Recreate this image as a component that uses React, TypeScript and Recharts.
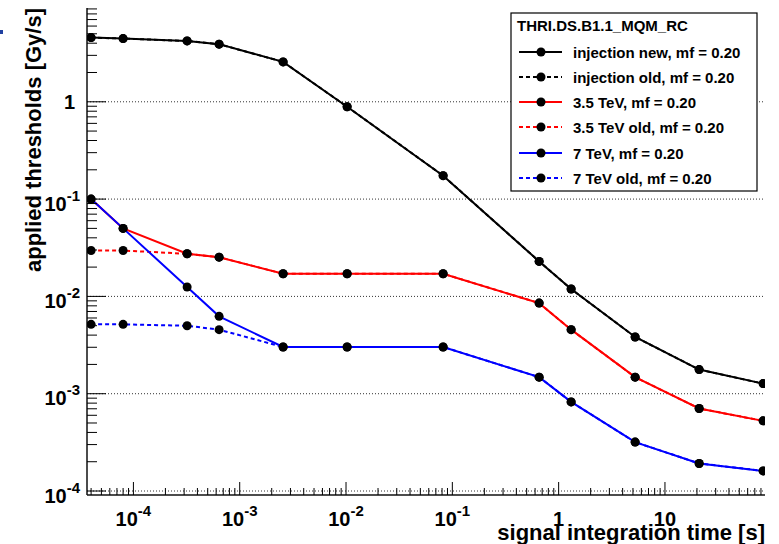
import React from "react";
import { LineChart, Line, XAxis, YAxis, ReferenceLine } from "recharts";

const FONT = '"Liberation Sans", Arial, Helvetica, sans-serif';

// running sum integration times [s]
const times = [
	4e-5, 8e-5, 3.2e-4, 6.4e-4, 2.56e-3, 1.024e-2, 8.192e-2, 0.65536, 1.31072,
	5.24288, 20.97152, 83.88608,
];

const injectionNew = [
	4.57, 4.46, 4.22, 3.91, 2.57, 0.89, 0.174, 0.0229, 0.0119, 0.00383, 0.00177,
	0.00127,
];
const injectionOld = [
	4.57, 4.46, 4.22, 3.91, 2.57, 0.89, 0.174, 0.0229, 0.0119, 0.00383, 0.00177,
	0.00127,
];
const tev35New = [
	0.1, 0.05, 0.0274, 0.0253, 0.0171, 0.0171, 0.0171, 0.00853, 0.00455, 0.00148,
	0.000705, 0.000526,
];
const tev35Old = [
	0.0296, 0.0296, 0.0274, 0.0253, 0.0171, 0.0171, 0.0171, 0.00853, 0.00455,
	0.00148, 0.000705, 0.000526,
];
const tev7New = [
	0.1, 0.05, 0.0125, 0.00624, 0.00302, 0.00302, 0.00302, 0.00148, 0.000824,
	0.000318, 0.000192, 0.000161,
];
const tev7Old = [
	0.00516, 0.00516, 0.00499, 0.00455, 0.00302, 0.00302, 0.00302, 0.00148,
	0.000824, 0.000318, 0.000192, 0.000161,
];

const legendTitle = "THRI.DS.B1.1_MQM_RC";

const series = [
	{ key: "injNew", name: "injection new, mf = 0.20", color: "#000000", dashed: false, values: injectionNew },
	{ key: "injOld", name: "injection old, mf = 0.20", color: "#000000", dashed: true, values: injectionOld },
	{ key: "t35New", name: "3.5 TeV, mf = 0.20", color: "#ff0000", dashed: false, values: tev35New },
	{ key: "t35Old", name: "3.5 TeV old, mf = 0.20", color: "#ff0000", dashed: true, values: tev35Old },
	{ key: "t7New", name: "7 TeV, mf = 0.20", color: "#0000ff", dashed: false, values: tev7New },
	{ key: "t7Old", name: "7 TeV old, mf = 0.20", color: "#0000ff", dashed: true, values: tev7Old },
];

const xDomain = [3.66e-5, 87.3];
const yDomain = [9.1e-5, 9.2];
const xDecades = [-5, -4, -3, -2, -1, 0, 1];
const yDecades = [-5, -4, -3, -2, -1, 0];
const gridDecades = [1e-4, 1e-3, 1e-2, 1e-1, 1];

function logTicks(decades: number[], domain: number[]) {
	const out: number[] = [];
	decades.forEach((d) => {
		for (let k = 1; k <= 9; k++) {
			const v = Number((k * Math.pow(10, d)).toPrecision(6));
			if (v >= domain[0] && v <= domain[1]) out.push(v);
		}
	});
	return out;
}

const xTicks = logTicks(xDecades, xDomain);
const yTicks = logTicks(yDecades, yDomain);

const rows = times.map((t, i) => {
	const r: any = { t };
	series.forEach((s) => {
		r[s.key] = s.values[i];
	});
	return r;
});

function decadeOf(v: number) {
	const e = Math.round(Math.log10(v));
	return Math.abs(v - Math.pow(10, e)) / v < 1e-6 ? e : null;
}

function labelText(e: number) {
	if (e === 0) return <tspan>1</tspan>;
	if (e === 1) return <tspan>10</tspan>;
	return (
		<>
			<tspan>10</tspan>
			<tspan dy={-10} fontSize={15}>
				{String(e)}
			</tspan>
		</>
	);
}

const BottomTick = (props: any) => {
	const { x, y, payload } = props;
	const e = decadeOf(payload.value);
	return (
		<g>
			<line x1={x} x2={x} y1={y} y2={y - (e !== null ? 13 : 7)} stroke="#000" />
			{e !== null && (
				<text x={x} y={y + 31} textAnchor="middle" fontFamily={FONT} fontWeight="bold" fontSize={20} fill="#000">
					{labelText(e)}
				</text>
			)}
		</g>
	);
};

const TopTick = (props: any) => {
	const { x, y, payload } = props;
	const e = decadeOf(payload.value);
	return <line x1={x} x2={x} y1={y} y2={y + (e !== null ? 13 : 7)} stroke="#000" />;
};

const LeftTick = (props: any) => {
	const { x, y, payload } = props;
	const e = decadeOf(payload.value);
	return (
		<g>
			<line x1={x} x2={x + (e !== null ? 19 : 10)} y1={y} y2={y} stroke="#000" />
			{e !== null && (
				<text
					x={e === 0 ? x - 12 : x - 7}
					y={e === 0 ? y + 7 : y + 11.5}
					textAnchor="end"
					fontFamily={FONT}
					fontWeight="bold"
					fontSize={20}
					fill="#000"
				>
					{labelText(e)}
				</text>
			)}
		</g>
	);
};

const RightTick = (props: any) => {
	const { x, y, payload } = props;
	const e = decadeOf(payload.value);
	return <line x1={x} x2={x - (e !== null ? 19 : 10)} y1={y} y2={y} stroke="#000" />;
};

function LegendBox() {
	const left = 511;
	const top = 13;
	const rowY = [52, 77, 102, 127, 153, 178];
	return (
		<svg
			width={779}
			height={544}
			style={{ position: "absolute", left: 0, top: 0, pointerEvents: "none" }}
		>
			<rect x={0} y={30} width={3} height={4} fill="#2040a0" />
			<rect x={left} y={top} width={246} height={178} fill="#fff" stroke="#000" strokeWidth={1.2} />
			<text x={517} y={31} fontFamily={FONT} fontWeight="bold" fontSize={15} fill="#000">
				{legendTitle}
			</text>
			{series.map((s, i) => (
				<g key={s.key}>
					<line
						x1={519}
						x2={562}
						y1={rowY[i]}
						y2={rowY[i]}
						stroke={s.color}
						strokeWidth={2}
						strokeDasharray={s.dashed ? "4 3" : undefined}
					/>
					<circle cx={541} cy={rowY[i]} r={4.5} fill="#000" />
					<text x={573} y={rowY[i] + 5.5} fontFamily={FONT} fontWeight="bold" fontSize={15} fill="#000">
						{s.name}
					</text>
				</g>
			))}
		</svg>
	);
}

export default function App() {
	return (
		<div style={{ position: "absolute", left: 0, top: 0, width: 779, height: 544, background: "#fff" }}>
			<LineChart width={779} height={544} data={rows} margin={{ top: 8, right: 14, bottom: 0, left: 0 }}>
				<XAxis
					xAxisId="b"
					dataKey="t"
					type="number"
					scale="log"
					domain={xDomain}
					allowDataOverflow
					ticks={xTicks}
					interval={0}
					height={49}
					tickSize={0}
					tickMargin={0}
					tickLine={false}
					tick={<BottomTick />}
					axisLine={{ stroke: "#111", strokeWidth: 1.5 }}
					label={() => (
						<text x={765} y={540} textAnchor="end" fontFamily={FONT} fontWeight="bold" fontSize={22} fill="#000">
							signal integration time [s]
						</text>
					)}
				/>
				<XAxis
					xAxisId="t"
					orientation="top"
					dataKey="t"
					type="number"
					scale="log"
					domain={xDomain}
					allowDataOverflow
					ticks={xTicks}
					interval={0}
					height={0}
					tickSize={0}
					tickMargin={0}
					tickLine={false}
					tick={<TopTick />}
					axisLine={{ stroke: "#111", strokeWidth: 1.5 }}
				/>
				<YAxis
					yAxisId="l"
					type="number"
					scale="log"
					domain={yDomain}
					allowDataOverflow
					ticks={yTicks}
					interval={0}
					width={87}
					tickSize={0}
					tickMargin={0}
					tickLine={false}
					tick={<LeftTick />}
					axisLine={{ stroke: "#111", strokeWidth: 1.5 }}
					label={() => (
						<text
							x={0}
							y={0}
							transform="translate(41, 8) rotate(-90)"
							textAnchor="end"
							fontFamily={FONT}
							fontWeight="bold"
							fontSize={22}
							fill="#000"
						>
							applied thresholds [Gy/s]
						</text>
					)}
				/>
				<YAxis
					yAxisId="r"
					orientation="right"
					type="number"
					scale="log"
					domain={yDomain}
					allowDataOverflow
					ticks={yTicks}
					interval={0}
					width={0}
					tickSize={0}
					tickMargin={0}
					tickLine={false}
					tick={<RightTick />}
					axisLine={{ stroke: "#111", strokeWidth: 1.5 }}
				/>
				{gridDecades.map((g) => (
					<ReferenceLine
						key={g}
						xAxisId="b"
						yAxisId="l"
						y={g}
						stroke="#333"
						strokeWidth={1}
						strokeDasharray="1 2"
					/>
				))}
				{series.map((s) => (
					<Line
						key={s.key}
						xAxisId="b"
						yAxisId="l"
						type="linear"
						dataKey={s.key}
						stroke={s.color}
						strokeWidth={2}
						strokeDasharray={s.dashed ? "4 3" : undefined}
						dot={{ r: 4.5, fill: "#000", stroke: "none" }}
						activeDot={false}
						isAnimationActive={false}
					/>
				))}
			</LineChart>
			<LegendBox />
		</div>
	);
}
